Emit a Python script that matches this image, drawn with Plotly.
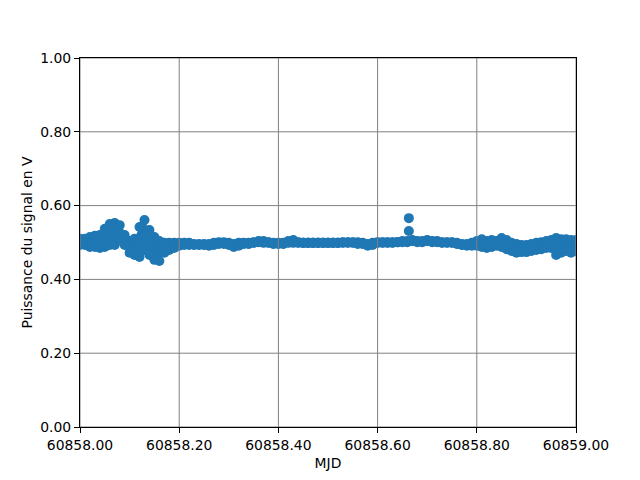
import plotly.graph_objects as go

# MJD offsets (fraction of day after 60858) sampled along the trace
mjd_base = 60858.0
t_frac = [round(i * 0.01, 2) for i in range(101)]

# upper edge, middle and lower edge of the signal band (V)
y_top = [0.510, 0.510, 0.515, 0.518, 0.520, 0.537, 0.550, 0.553, 0.547, 0.520,
         0.504, 0.510, 0.542, 0.561, 0.534, 0.515, 0.504, 0.499, 0.499, 0.499,
         0.499, 0.499, 0.499, 0.496, 0.496, 0.496, 0.496, 0.499, 0.501, 0.501,
         0.499, 0.496, 0.499, 0.499, 0.499, 0.501, 0.504, 0.504, 0.501, 0.499,
         0.499, 0.499, 0.504, 0.507, 0.501, 0.499, 0.499, 0.499, 0.499, 0.499,
         0.499, 0.499, 0.499, 0.501, 0.501, 0.501, 0.501, 0.499, 0.496, 0.499,
         0.501, 0.501, 0.501, 0.501, 0.501, 0.504, 0.504, 0.507, 0.504, 0.504,
         0.507, 0.504, 0.504, 0.501, 0.501, 0.501, 0.499, 0.496, 0.496, 0.499,
         0.504, 0.509, 0.504, 0.507, 0.504, 0.512, 0.507, 0.499, 0.496, 0.493,
         0.493, 0.496, 0.499, 0.501, 0.504, 0.507, 0.512, 0.509, 0.509, 0.507,
         0.507]
y_mid = [0.501, 0.501, 0.501, 0.503, 0.503, 0.512, 0.522, 0.523, 0.527, 0.507,
         0.488, 0.488, 0.501, 0.520, 0.500, 0.484, 0.477, 0.485, 0.489, 0.492,
         0.495, 0.496, 0.496, 0.494, 0.494, 0.494, 0.493, 0.496, 0.498, 0.498,
         0.496, 0.492, 0.495, 0.497, 0.497, 0.500, 0.502, 0.501, 0.500, 0.497,
         0.497, 0.497, 0.501, 0.503, 0.500, 0.499, 0.499, 0.499, 0.499, 0.499,
         0.499, 0.499, 0.499, 0.500, 0.500, 0.500, 0.498, 0.497, 0.493, 0.496,
         0.500, 0.500, 0.500, 0.500, 0.501, 0.502, 0.502, 0.505, 0.502, 0.502,
         0.505, 0.502, 0.502, 0.500, 0.500, 0.500, 0.497, 0.494, 0.493, 0.495,
         0.497, 0.498, 0.494, 0.497, 0.497, 0.500, 0.494, 0.488, 0.484, 0.484,
         0.484, 0.486, 0.489, 0.492, 0.494, 0.496, 0.489, 0.491, 0.493, 0.489,
         0.492]
y_bot = [0.493, 0.493, 0.488, 0.488, 0.485, 0.488, 0.493, 0.493, 0.507, 0.493,
         0.472, 0.466, 0.461, 0.480, 0.466, 0.453, 0.450, 0.472, 0.480, 0.485,
         0.491, 0.493, 0.493, 0.493, 0.493, 0.493, 0.491, 0.493, 0.496, 0.496,
         0.493, 0.488, 0.491, 0.496, 0.496, 0.499, 0.501, 0.499, 0.499, 0.496,
         0.496, 0.496, 0.499, 0.499, 0.499, 0.499, 0.499, 0.499, 0.499, 0.499,
         0.499, 0.499, 0.499, 0.499, 0.499, 0.499, 0.496, 0.496, 0.491, 0.493,
         0.499, 0.499, 0.499, 0.499, 0.501, 0.501, 0.501, 0.504, 0.501, 0.501,
         0.504, 0.501, 0.501, 0.499, 0.499, 0.499, 0.496, 0.493, 0.491, 0.491,
         0.491, 0.488, 0.485, 0.488, 0.491, 0.488, 0.482, 0.477, 0.472, 0.474,
         0.474, 0.477, 0.480, 0.482, 0.485, 0.485, 0.466, 0.472, 0.477, 0.472,
         0.477]

# isolated outliers
out_frac = [0.663, 0.663]
out_val = [0.566, 0.531]

x_ticks = [60858.0, 60858.2, 60858.4, 60858.6, 60858.8, 60859.0]
y_ticks = [0.0, 0.2, 0.4, 0.6, 0.8, 1.0]

BLUE = "#1f77b4"
xs = [mjd_base + t for t in t_frac]

fig = go.Figure()
# solid body of the band between the lower and upper edge samples
fig.add_trace(go.Scatter(x=xs, y=y_bot, mode="lines", line=dict(color=BLUE, width=0),
                         showlegend=False, hoverinfo="skip"))
fig.add_trace(go.Scatter(x=xs, y=y_top, mode="lines", line=dict(color=BLUE, width=0),
                         fill="tonexty", fillcolor=BLUE,
                         showlegend=False, hoverinfo="skip"))
# the samples themselves
all_x = xs * 3 + [mjd_base + t for t in out_frac]
all_y = y_top + y_mid + y_bot + out_val
fig.add_trace(go.Scatter(
    x=all_x, y=all_y, mode="markers",
    marker=dict(color=BLUE, size=10, line=dict(width=0)),
    showlegend=False, hoverinfo="skip"))

shapes = []
for xv in x_ticks:
    shapes.append(dict(type="line", xref="x", yref="paper", x0=xv, x1=xv, y0=0, y1=1,
                       line=dict(color="#808080", width=1), layer="above"))
for yv in y_ticks:
    shapes.append(dict(type="line", xref="paper", yref="y", x0=0, x1=1, y0=yv, y1=yv,
                       line=dict(color="#808080", width=1), layer="above"))

font = dict(family="DejaVu Sans", size=13.9, color="black")
fig.update_layout(
    width=632, height=472,
    margin=dict(l=72, r=64, t=50, b=45),
    paper_bgcolor="white", plot_bgcolor="white",
    font=font, shapes=shapes,
    xaxis=dict(range=[60858.0, 60859.0], tickvals=x_ticks,
               ticktext=[f"{v:.2f}" for v in x_ticks],
               showgrid=False, zeroline=False, showline=True, mirror=True,
               linecolor="black", linewidth=1, ticks="outside", ticklen=5,
               tickcolor="black", title=dict(text="MJD", font=font, standoff=6),
               layer="above traces"),
    yaxis=dict(range=[0, 1], tickvals=y_ticks,
               ticktext=[f"{v:.2f}" for v in y_ticks],
               showgrid=False, zeroline=False, showline=True, mirror=True,
               linecolor="black", linewidth=1, ticks="outside", ticklen=5,
               tickcolor="black",
               title=dict(text="Puissance du signal en V", font=font, standoff=4),
               layer="above traces"),
)
fig.write_html("out.html")
